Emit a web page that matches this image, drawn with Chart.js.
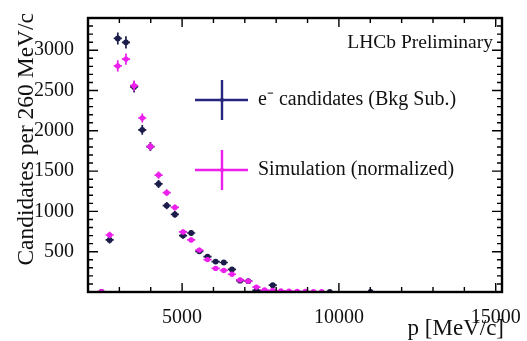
<!DOCTYPE html>
<html>
<head>
<meta charset="utf-8">
<script src="https://cdn.jsdelivr.net/npm/chart.js@4.4.0/dist/chart.umd.min.js"></script>
<style>
  html, body { margin: 0; padding: 0; background: #fff; }
  #wrap { width: 527px; height: 341px; }
</style>
</head>
<body>
<div id="wrap"><canvas id="c" width="527" height="341"></canvas></div>
<script>
// Data (bin width 260 MeV/c)
///////////////////////////////////////////////////////////////
const dataX = [2430, 2690, 2950, 3210, 3470, 3730, 3990, 4250, 4510, 4770, 5030, 5290,
               5550, 5810, 6070, 6330, 6590, 6850, 7110, 7370, 7630, 7890, 9710, 11010];
const dataY = [0, 646, 3146, 3098, 2545, 2012, 1805, 1341, 1073, 963, 700, 732,
               505, 439, 378, 366, 280, 140, 134, 20, 10, 85, 0, 0];
const dataErr = [10, 45, 75, 75, 68, 60, 55, 50, 45, 42, 38, 38,
                 32, 30, 28, 28, 25, 20, 20, 12, 10, 15, 5, 5];

const simX = [2430, 2690, 2950, 3210, 3470, 3730, 3990, 4250, 4510, 4770, 5030, 5290,
              5550, 5810, 6070, 6330, 6590, 6850, 7110, 7370, 7630, 7890, 8150, 8410,
              8670, 8930, 9190, 9450];
const simY = [5, 707, 2805, 2890, 2560, 2159, 1805, 1451, 1232, 1049, 745, 646,
              520, 402, 293, 268, 220, 150, 134, 61, 24, 20, 14, 10, 8, 6, 4, 3];
const simErr = [5, 40, 70, 70, 65, 55, 50, 45, 42, 38, 32, 30,
                28, 25, 20, 20, 18, 14, 13, 9, 6, 6, 5, 4, 4, 3, 3, 2];

const halfBin = 130;

const xTickValues = [5000, 10000, 15000];
const xTickLabels = ['5000', '10000', '15000'];
const yTickValues = [500, 1000, 1500, 2000, 2500, 3000];
const yTickLabels = ['500', '1000', '1500', '2000', '2500', '3000'];

const seriesNames = ['e\u207B candidates (Bkg Sub.)', 'Simulation (normalized)'];

// Styles
///////////////////////////////////////////////////////////////
const SERIF = "'Liberation Serif', 'Times New Roman', serif";
const dataColour = '#1c1c4a';
const legendDataColour = '#26267e';
const simColour = '#ec1fec';

function toPoints(xs, ys) {
    return xs.map((x, i) => ({ x: x, y: ys[i] }));
}

// draws ROOT-like error bars, frame, inner ticks and the text boxes
const rootStyle = {
    id: 'rootStyle',
    beforeDatasetDraw(chart, args) {
        const ctx = chart.ctx;
        const xs = chart.scales.x, ys = chart.scales.y;
        const errs = args.index === 0 ? simErr : dataErr;
        const pts = chart.data.datasets[args.index].data;
        ctx.save();
        ctx.strokeStyle = chart.data.datasets[args.index].borderColor;
        ctx.lineWidth = 1.7;
        ctx.beginPath();
        pts.forEach((p, i) => {
            const px = xs.getPixelForValue(p.x), py = ys.getPixelForValue(p.y);
            ctx.moveTo(xs.getPixelForValue(p.x - halfBin), py);
            ctx.lineTo(xs.getPixelForValue(p.x + halfBin), py);
            ctx.moveTo(px, ys.getPixelForValue(p.y - errs[i]));
            ctx.lineTo(px, ys.getPixelForValue(p.y + errs[i]));
        });
        ctx.stroke();
        ctx.restore();
    },
    afterDraw(chart) {
        const ctx = chart.ctx;
        const a = chart.chartArea;
        const xs = chart.scales.x, ys = chart.scales.y;
        ctx.save();

        // inner ticks
        ctx.strokeStyle = '#000';
        ctx.lineWidth = 1.4;
        ctx.beginPath();
        for (let v = 3000; v <= 15000; v += 1000) {
            const px = xs.getPixelForValue(v);
            const len = v % 5000 === 0 ? 9 : 5;
            ctx.moveTo(px, a.bottom); ctx.lineTo(px, a.bottom - len);
            ctx.moveTo(px, a.top); ctx.lineTo(px, a.top + len);
        }
        for (let v = 100; v <= 3400; v += 100) {
            const py = ys.getPixelForValue(v);
            const len = v % 500 === 0 ? 10 : 5;
            ctx.moveTo(a.left, py); ctx.lineTo(a.left + len, py);
            ctx.moveTo(a.right, py); ctx.lineTo(a.right - len, py);
        }
        ctx.stroke();

        // frame
        ctx.lineWidth = 2.4;
        ctx.strokeRect(a.left, a.top, a.right - a.left, a.bottom - a.top);

        // axis titles
        ctx.fillStyle = '#111';
        ctx.font = '23px ' + SERIF;
        ctx.textAlign = 'right';
        ctx.textBaseline = 'middle';
        ctx.fillText('p [MeV/c]', a.right + 2, 329);
        ctx.save();
        ctx.translate(27, a.top - 5);
        ctx.rotate(-Math.PI / 2);
        ctx.textAlign = 'right';
        ctx.font = '23.5px ' + SERIF;
        ctx.fillText('Candidates per 260 MeV/c', 0, 0);
        ctx.restore();

        // LHCb label
        ctx.font = '19.5px ' + SERIF;
        ctx.textAlign = 'right';
        ctx.fillText('LHCb Preliminary', 493, 43);

        // legend
        const entries = [
            { y: 100, colour: legendDataColour, text: seriesNames[0] },
            { y: 170, colour: simColour, text: seriesNames[1] }
        ];
        entries.forEach(e => {
            ctx.strokeStyle = e.colour;
            ctx.lineWidth = 2.4;
            ctx.beginPath();
            ctx.moveTo(195, e.y); ctx.lineTo(248, e.y);
            ctx.moveTo(222, e.y - 20); ctx.lineTo(222, e.y + 20);
            ctx.stroke();
            ctx.fillStyle = e.colour;
            ctx.beginPath();
            ctx.arc(222, e.y, 2, 0, Math.PI * 2);
            ctx.fill();
            ctx.fillStyle = '#111';
            ctx.font = '20px ' + SERIF;
            ctx.textAlign = 'left';
            ctx.fillText(e.text, 258, e.y);
        });

        ctx.restore();
    }
};

const config = {
    type: 'scatter',
    data: {
        datasets: [{
            label: seriesNames[1],
            data: toPoints(simX, simY),
            order: 0,
            backgroundColor: simColour,
            borderColor: simColour,
            pointRadius: 2.7,
            pointBorderWidth: 0
        }, {
            label: seriesNames[0],
            data: toPoints(dataX, dataY),
            order: 1,
            backgroundColor: dataColour,
            borderColor: dataColour,
            pointRadius: 2.9,
            pointBorderWidth: 0
        }]
    },
    options: {
        responsive: false,
        animation: false,
        devicePixelRatio: 1,
        layout: { padding: { left: 0, top: 13, right: 18, bottom: 0 } },
        plugins: {
            legend: { display: false },
            tooltip: { enabled: false }
        },
        scales: {
            x: {
                type: 'linear',
                min: 2000,
                max: 15200,
                grid: { display: false },
                border: { display: false },
                afterBuildTicks: scale => {
                    scale.ticks = xTickValues.map(v => ({ value: v }));
                },
                afterFit: scale => { scale.height = 49; },
                ticks: {
                    padding: 6,
                    color: '#111',
                    font: { family: SERIF, size: 20 },
                    maxRotation: 0,
                    callback: (v) => xTickLabels[xTickValues.indexOf(v)]
                }
            },
            y: {
                type: 'linear',
                min: 0,
                max: 3400,
                grid: { display: false },
                border: { display: false },
                afterBuildTicks: scale => {
                    scale.ticks = yTickValues.map(v => ({ value: v }));
                },
                afterFit: scale => { scale.width = 88; },
                ticks: {
                    padding: 6,
                    color: '#111',
                    font: { family: SERIF, size: 20 },
                    callback: (v) => yTickLabels[yTickValues.indexOf(v)]
                }
            }
        }
    },
    plugins: [rootStyle]
};

const myChart = new Chart(document.getElementById('c'), config);
</script>
</body>
</html>
